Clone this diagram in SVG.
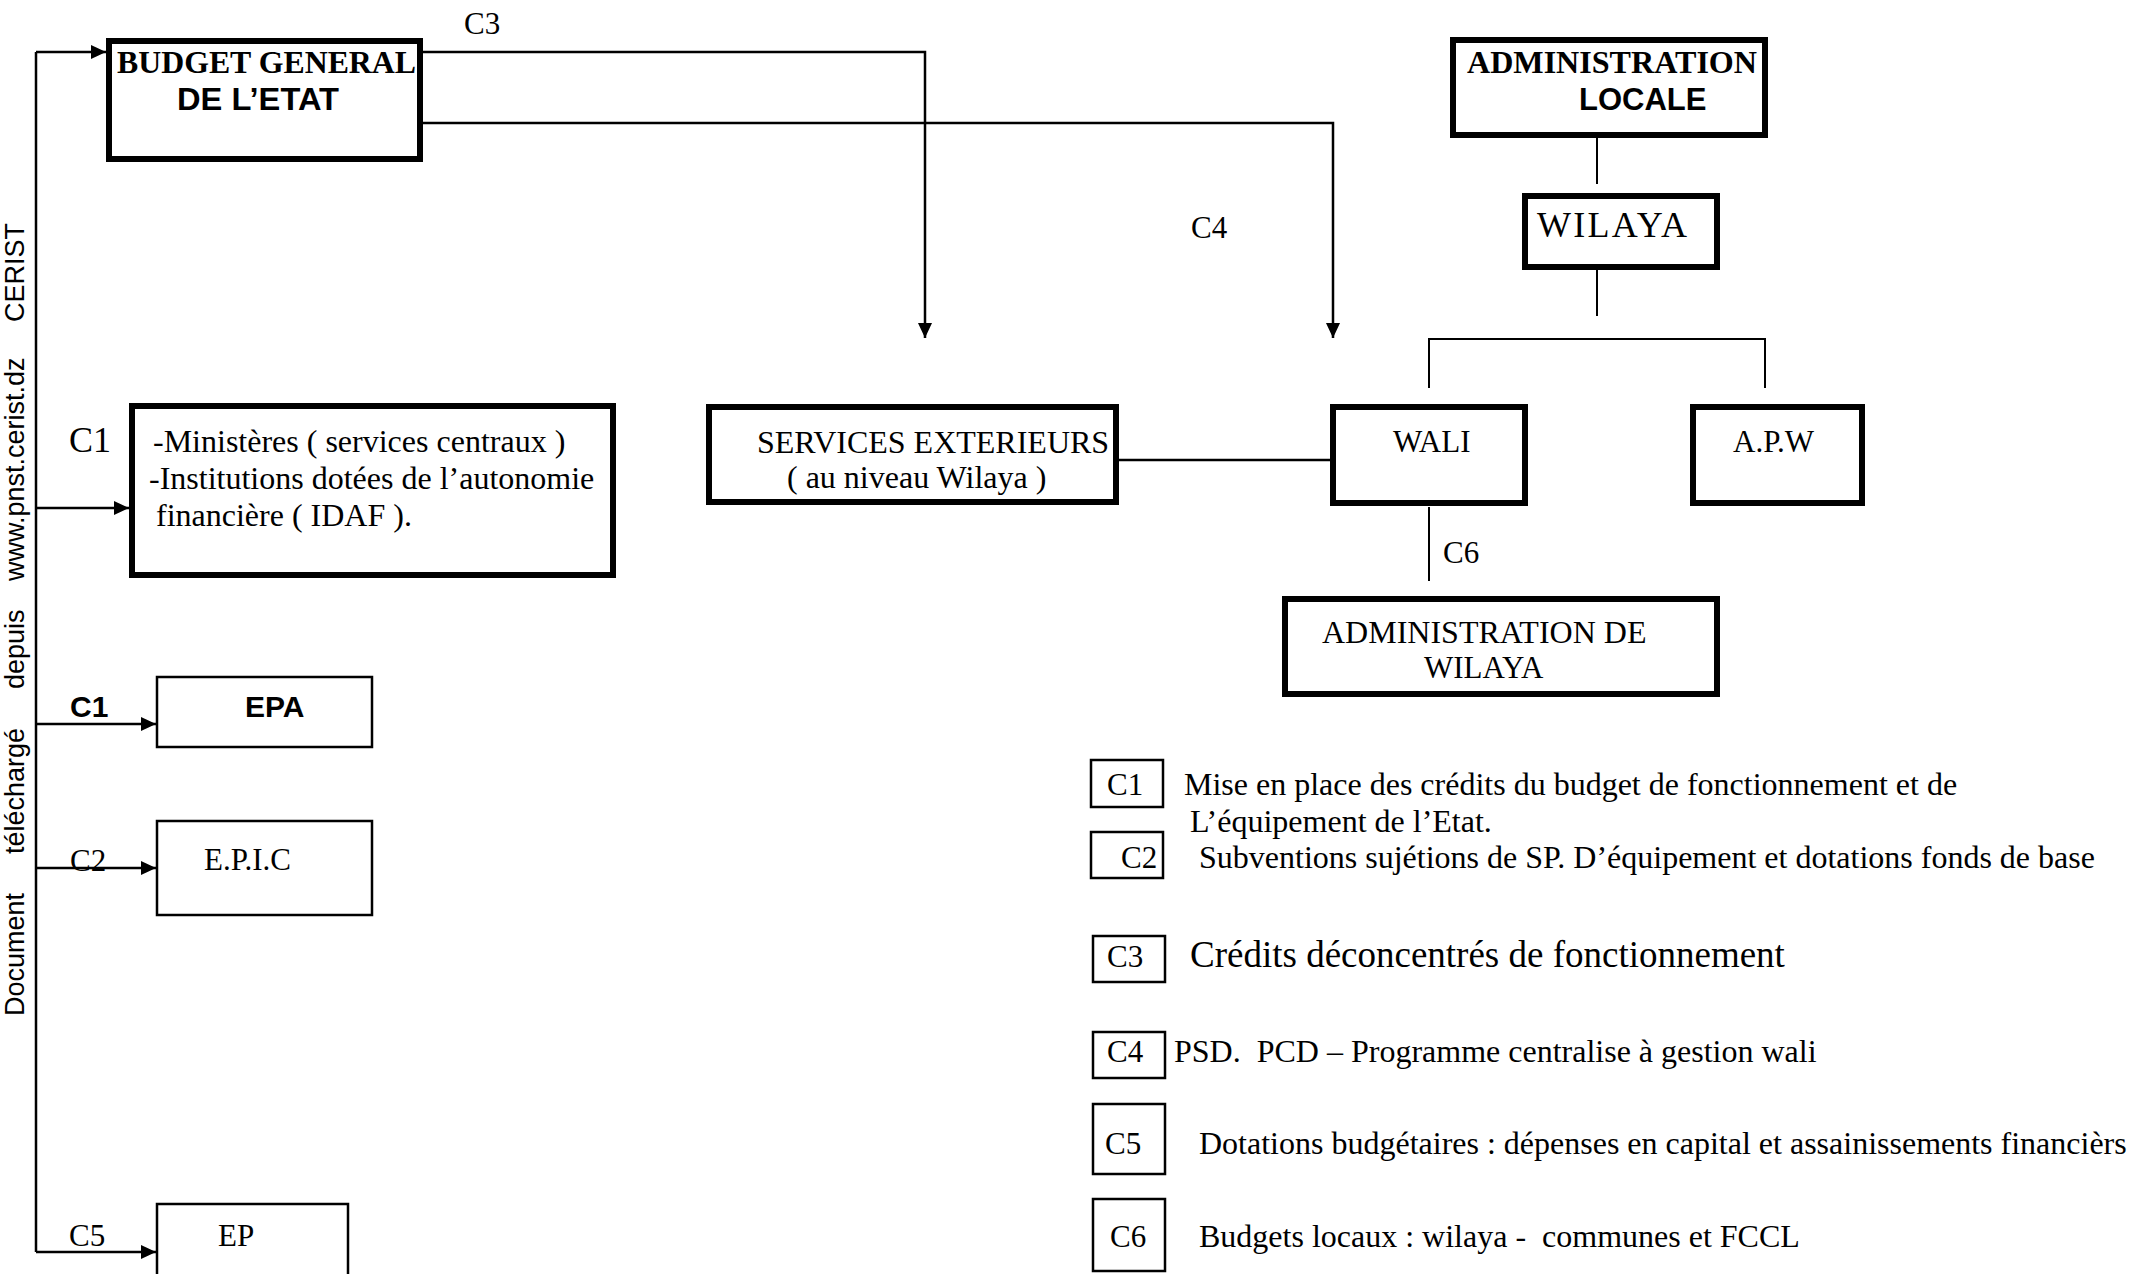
<svg xmlns="http://www.w3.org/2000/svg" width="2129" height="1274" viewBox="0 0 2129 1274">
<style>
.thick{fill:#fff;stroke:#000;stroke-width:6}
.thin{fill:#fff;stroke:#000;stroke-width:2.5}
.ln{fill:none;stroke:#000;stroke-width:2.5}
.tl{fill:none;stroke:#000;stroke-width:2}
.t{font-family:"Liberation Serif","Times New Roman",serif;font-size:31px;fill:#000}
.tb{font-family:"Liberation Serif","Times New Roman",serif;font-size:32px;font-weight:bold;fill:#000}
.ab{font-family:"Liberation Sans",Arial,sans-serif;font-size:31px;font-weight:bold;fill:#000}
.wm{font-family:"Liberation Sans",Arial,sans-serif;font-size:27px;fill:#000}
</style>
<defs>
<marker id="ah" markerWidth="15" markerHeight="14" refX="15" refY="7" orient="auto" markerUnits="userSpaceOnUse">
<path d="M0,0 L15,7 L0,14 Z" fill="#000"/>
</marker>
</defs>
<rect width="2129" height="1274" fill="#fff"/>

<g id="watermark" transform="translate(24,0) rotate(-90)">
<text class="wm" x="-1016" y="0">Document</text>
<text class="wm" x="-854" y="0">téléchargé</text>
<text class="wm" x="-689" y="0">depuis</text>
<text class="wm" x="-581" y="0">www.pnst.cerist.dz</text>
<text class="wm" x="-322" y="0">CERIST</text>
</g>

<g id="connectors">
<path class="ln" d="M36,52 V1252"/>
<path class="ln" d="M36,52 H106" marker-end="url(#ah)"/>
<path class="ln" d="M36,508 H129" marker-end="url(#ah)"/>
<path class="ln" d="M36,724 H156" marker-end="url(#ah)"/>
<path class="ln" d="M36,868 H156" marker-end="url(#ah)"/>
<path class="ln" d="M36,1252 H156" marker-end="url(#ah)"/>
<path class="ln" d="M423,52 H925 V338" marker-end="url(#ah)"/>
<path class="ln" d="M423,123 H1333 V338" marker-end="url(#ah)"/>
<path class="tl" d="M1597,138 V184"/>
<path class="tl" d="M1597,270 V316"/>
<path class="tl" d="M1429,388 V339 H1765 V388"/>
<path class="ln" d="M1119,460 H1330"/>
<path class="tl" d="M1429,507 V581"/>
<text class="t" x="464" y="34">C3</text>
<text class="t" x="1191" y="238">C4</text>
<text class="t" x="69" y="452" style="font-size:36px">C1</text>
<text class="ab" x="70" y="717" style="font-size:30px">C1</text>
<text class="t" x="70" y="871">C2</text>
<text class="t" x="69" y="1246">C5</text>
<text class="t" x="1443" y="563">C6</text>
</g>

<g id="budget">
<rect class="thick" x="109" y="41" width="311" height="118"/>
<text class="tb" x="117" y="73" textLength="299" lengthAdjust="spacingAndGlyphs">BUDGET GENERAL</text>
<text class="ab" x="177" y="110" textLength="162" lengthAdjust="spacingAndGlyphs">DE L’ETAT</text>
</g>

<g id="admin-locale">
<rect class="thick" x="1453" y="40" width="312" height="95"/>
<text class="tb" x="1467" y="73" textLength="290" lengthAdjust="spacingAndGlyphs">ADMINISTRATION</text>
<text class="ab" x="1579" y="110">LOCALE</text>
</g>

<g id="wilaya">
<rect class="thick" x="1525" y="196" width="192" height="71"/>
<text class="t" x="1537" y="237" style="font-size:36px" textLength="150" lengthAdjust="spacing">WILAYA</text>
</g>

<g id="ministeres">
<rect class="thick" x="132" y="406" width="481" height="169"/>
<text class="t" x="153" y="452" style="font-size:32px">-Ministères ( services centraux )</text>
<text class="t" x="149" y="489" style="font-size:32px">-Institutions dotées de l’autonomie</text>
<text class="t" x="156" y="526" style="font-size:32px">financière ( IDAF ).</text>
</g>

<g id="services-exterieurs">
<rect class="thick" x="709" y="407" width="407" height="95"/>
<text class="t" x="757" y="453" style="font-size:32px">SERVICES EXTERIEURS</text>
<text class="t" x="787" y="488" style="font-size:32px">( au niveau Wilaya )</text>
</g>

<g id="wali">
<rect class="thick" x="1333" y="407" width="192" height="96"/>
<text class="t" x="1393" y="452">WALI</text>
</g>

<g id="apw">
<rect class="thick" x="1693" y="407" width="169" height="96"/>
<text class="t" x="1733" y="452">A.P.W</text>
</g>

<g id="admin-wilaya">
<rect class="thick" x="1285" y="599" width="432" height="95"/>
<text class="t" x="1322" y="643" style="font-size:32px">ADMINISTRATION DE</text>
<text class="t" x="1424" y="678">WILAYA</text>
</g>

<g id="epa">
<rect class="thin" x="157" y="677" width="215" height="70"/>
<text class="ab" x="245" y="717" style="font-size:30px">EPA</text>
</g>

<g id="epic">
<rect class="thin" x="157" y="821" width="215" height="94"/>
<text class="t" x="204" y="870">E.P.I.C</text>
</g>

<g id="ep">
<rect class="thin" x="157" y="1204" width="191" height="100"/>
<text class="t" x="218" y="1246">EP</text>
</g>

<g id="legend">
<rect class="thin" x="1091" y="760" width="72" height="47"/>
<text class="t" x="1107" y="795">C1</text>
<text class="t" x="1184" y="795" style="font-size:32px">Mise en place des crédits du budget de fonctionnement et de</text>
<text class="t" x="1190" y="832" style="font-size:32px">L’équipement de l’Etat.</text>
<rect class="thin" x="1091" y="832" width="72" height="46"/>
<text class="t" x="1121" y="868">C2</text>
<text class="t" x="1199" y="868" style="font-size:32px">Subventions sujétions de SP. D’équipement et dotations fonds de base</text>
<rect class="thin" x="1093" y="936" width="72" height="46"/>
<text class="t" x="1107" y="967">C3</text>
<text class="t" x="1190" y="967" style="font-size:37px">Crédits déconcentrés de fonctionnement</text>
<rect class="thin" x="1093" y="1032" width="72" height="46"/>
<text class="t" x="1107" y="1062">C4</text>
<text class="t" x="1174" y="1062" style="font-size:32px;white-space:pre" xml:space="preserve">PSD.  PCD – Programme centralise à gestion wali</text>
<rect class="thin" x="1093" y="1104" width="72" height="70"/>
<text class="t" x="1105" y="1154">C5</text>
<text class="t" x="1199" y="1154" style="font-size:32px">Dotations budgétaires : dépenses en capital et assainissements financièrs</text>
<rect class="thin" x="1093" y="1199" width="72" height="72"/>
<text class="t" x="1110" y="1247">C6</text>
<text class="t" x="1199" y="1247" style="font-size:32px;white-space:pre" xml:space="preserve">Budgets locaux : wilaya -  communes et FCCL</text>
</g>
</svg>
